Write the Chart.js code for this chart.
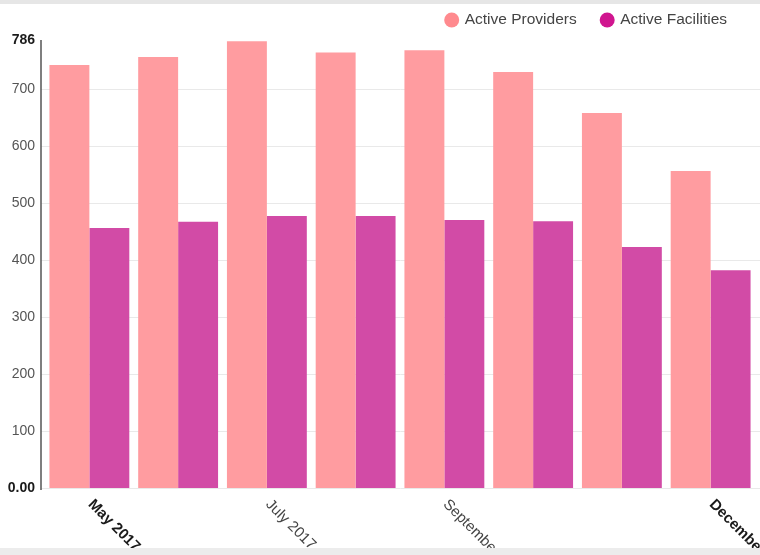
<!DOCTYPE html>
<html>
<head>
<meta charset="utf-8">
<script src="https://cdn.jsdelivr.net/npm/chart.js@4.4.1/dist/chart.umd.min.js"></script>
<style>
    html, body { margin: 0; padding: 0; background: #fff; }
    body { width: 760px; height: 555px; overflow: hidden; }
    .frame { border-top: 4px solid #e6e6e6; border-bottom: 7px solid #ececec; height: 544px; position: relative; }
    canvas { display: block; }
</style>
</head>
<body>
<div class="frame">
    <canvas id="usageChart" width="760" height="544"></canvas>
</div>
<script>
const months = ['May 2017', 'June 2017', 'July 2017', 'August 2017', 'September 2017', 'October 2017', 'November 2017', 'December 2017'];
const activeProviders = [742, 756, 784, 764, 768, 730, 658, 556];
const activeFacilities = [456, 467, 477, 477, 470, 468, 423, 382];
const yTicks = [0, 100, 200, 300, 400, 500, 600, 700, 786];
const shownMonths = [0, 2, 4, 7];
const boldMonths = [0, 7];

const FONT = '"Liberation Sans", Arial, sans-serif';
const legendColors = ['#ff8a8e', '#d0168f'];

function isEndTick(ctx) {
    return !!ctx.tick && (ctx.tick.value === 0 || ctx.tick.value === 786);
}

// legend in the top right corner, dots + labels
const legendPlugin = {
    id: 'topLegend',
    afterDraw(chart) {
        const ctx = chart.ctx;
        ctx.save();
        ctx.font = '15.5px ' + FONT;
        ctx.textBaseline = 'middle';
        ctx.textAlign = 'left';
        let x = 727;
        const y = 16;
        const sets = chart.data.datasets;
        for (let i = sets.length - 1; i >= 0; i--) {
            const w = ctx.measureText(sets[i].label).width;
            const tx = x - w;
            ctx.fillStyle = '#444';
            ctx.fillText(sets[i].label, tx, y);
            ctx.beginPath();
            ctx.arc(tx - 13, y, 7.5, 0, Math.PI * 2);
            ctx.fillStyle = legendColors[i];
            ctx.fill();
            x = tx - 20.5 - 23;
        }
        ctx.restore();
    }
};

// horizontal grid and the y axis line, a little left of the bars
const gridPlugin = {
    id: 'gridLines',
    beforeDatasetsDraw(chart) {
        const ctx = chart.ctx;
        const yScale = chart.scales.y;
        const left = chart.chartArea.left - 4;
        ctx.save();
        ctx.strokeStyle = '#e9e9e9';
        ctx.lineWidth = 1;
        yTicks.forEach(v => {
            if (v === 786) return;
            const py = Math.round(yScale.getPixelForValue(v)) + 0.5;
            ctx.beginPath();
            ctx.moveTo(left, py);
            ctx.lineTo(chart.width, py);
            ctx.stroke();
        });
        ctx.strokeStyle = '#555';
        ctx.lineWidth = 1.5;
        ctx.beginPath();
        ctx.moveTo(left, yScale.getPixelForValue(786));
        ctx.lineTo(left, yScale.getPixelForValue(0) + 2);
        ctx.stroke();
        ctx.restore();
    }
};

// slanted month labels under the bars
const monthLabels = {
    id: 'monthLabels',
    afterDraw(chart) {
        const ctx = chart.ctx;
        const xScale = chart.scales.x;
        const bottom = chart.chartArea.bottom;
        shownMonths.forEach(i => {
            const bold = boldMonths.includes(i);
            ctx.save();
            ctx.translate(xScale.getPixelForValue(i) + 1, bottom + 14);
            ctx.rotate(Math.PI / 4);
            ctx.font = (bold ? 'bold ' : '') + '15px ' + FONT;
            ctx.fillStyle = bold ? '#1a1a1a' : '#444';
            ctx.textAlign = 'left';
            ctx.textBaseline = 'middle';
            ctx.fillText(months[i], 0, 0);
            ctx.restore();
        });
    }
};

function drawChart() {
    const ctx = document.getElementById('usageChart').getContext('2d');
    new Chart(ctx, {
        type: 'bar',
        data: {
            labels: months,
            datasets: [{
                label: 'Active Providers',
                data: activeProviders,
                backgroundColor: '#ff9ca0',
                borderWidth: 0
            }, {
                label: 'Active Facilities',
                data: activeFacilities,
                backgroundColor: '#d24ba6',
                borderWidth: 0
            }]
        },
        options: {
            responsive: false,
            animation: false,
            layout: {
                padding: { top: 36, right: 5, bottom: 60, left: 0 }
            },
            plugins: {
                legend: { display: false },
                tooltip: { enabled: false }
            },
            datasets: {
                bar: { barPercentage: 1, categoryPercentage: 0.9 }
            },
            scales: {
                x: {
                    display: false
                },
                y: {
                    min: 0,
                    max: 786,
                    afterFit: scale => { scale.width = 45; },
                    afterBuildTicks: scale => {
                        scale.ticks = yTicks.map(v => ({ value: v }));
                    },
                    grid: { display: false, drawTicks: false },
                    border: { display: false },
                    ticks: {
                        padding: 10,
                        color: ctx => isEndTick(ctx) ? '#1a1a1a' : '#555',
                        font: ctx => ({
                            family: FONT,
                            size: 14,
                            weight: isEndTick(ctx) ? 'bold' : 'normal'
                        }),
                        callback: v => v === 0 ? '0.00' : v
                    }
                }
            }
        },
        plugins: [gridPlugin, monthLabels, legendPlugin]
    });
}

document.addEventListener('DOMContentLoaded', drawChart);
</script>
</body>
</html>
